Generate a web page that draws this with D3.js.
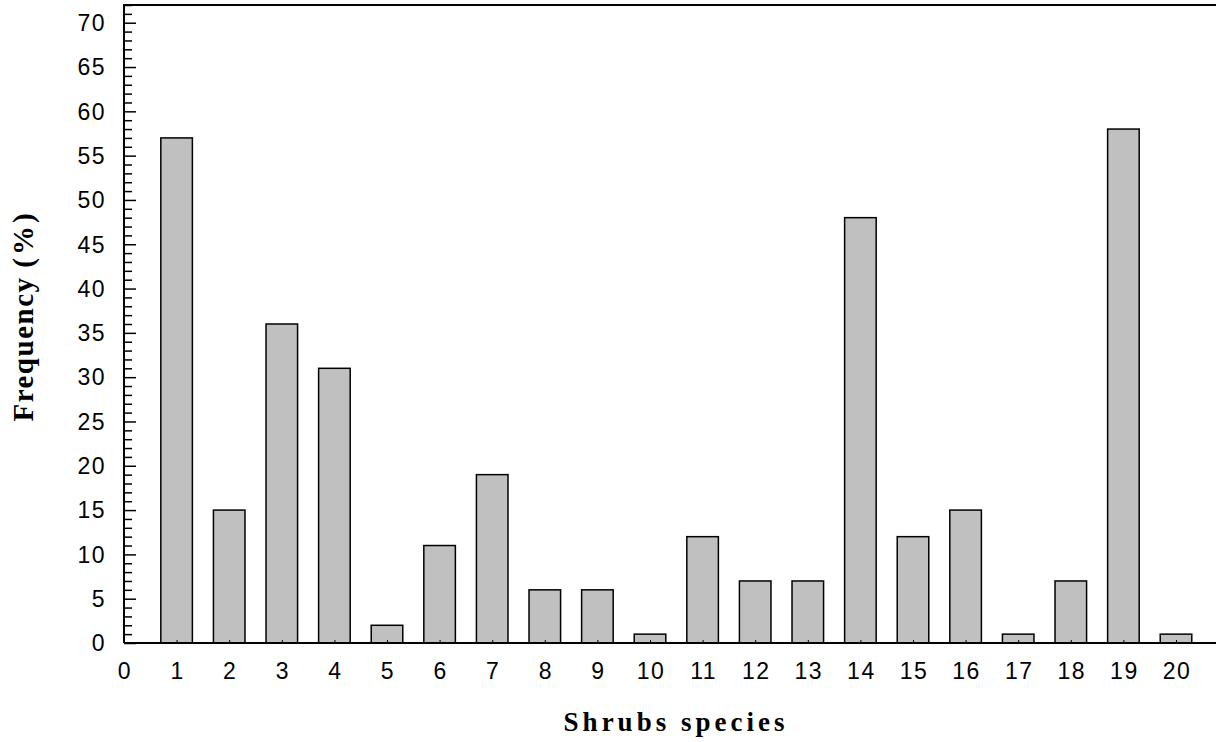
<!DOCTYPE html>
<html>
<head>
<meta charset="utf-8">
<script src="https://cdn.jsdelivr.net/npm/d3@7/dist/d3.min.js"></script>
<style>
  html, body { margin: 0; padding: 0; background: #fff; }
  svg { display: block; }
</style>
</head>
<body>
<svg id="chart" width="1216" height="742"></svg>
<script>
const species = [1, 2, 3, 4, 5, 6, 7, 8, 9, 10, 11, 12, 13, 14, 15, 16, 17, 18, 19, 20];
const frequency = [57, 15, 36, 31, 2, 11, 19, 6, 6, 1, 12, 7, 7, 48, 12, 15, 1, 7, 58, 1];
const xTickValues = [0, 1, 2, 3, 4, 5, 6, 7, 8, 9, 10, 11, 12, 13, 14, 15, 16, 17, 18, 19, 20];
const yTickValues = [0, 5, 10, 15, 20, 25, 30, 35, 40, 45, 50, 55, 60, 65, 70];
const xTitle = "Shrubs species";
const yTitleMain = "Frequency ";
const yTitleUnit = "(%)";

const svg = d3.select("#chart");
const mLeft = 124, mBottom = 643, mTop = 5;
const unit = 52.6;

const x = d3.scaleLinear().domain([0, 21]).range([mLeft, mLeft + 21 * unit]);
const y = d3.scaleLinear().domain([0, 72]).range([mBottom, mTop]);
const barW = unit * 0.6;

// bars
svg.append("g").selectAll("rect")
  .data(species)
  .join("rect")
  .attr("x", (d) => x(d) - barW / 2)
  .attr("y", (d, i) => y(frequency[i]))
  .attr("width", barW)
  .attr("height", (d, i) => y(0) - y(frequency[i]))
  .attr("fill", "#c0c0c0")
  .attr("stroke", "#000")
  .attr("stroke-width", 1.5);

// y axis with inward ticks
const yAxis = svg.append("g").attr("transform", `translate(${mLeft},0)`);
yAxis.call(d3.axisRight(y).tickValues(d3.range(0, 73, 1)).tickSize(8).tickFormat(""));
yAxis.selectAll(".tick line")
  .attr("stroke", "#000").attr("stroke-width", 1.5)
  .attr("x2", (d) => (d % 5 === 0 ? 12 : 8));
yAxis.select(".domain").remove();
yAxis.append("line").attr("x1", 0).attr("x2", 0).attr("y1", mTop).attr("y2", mBottom)
  .attr("stroke", "#000").attr("stroke-width", 2);

// y labels
svg.append("g").selectAll("text")
  .data(yTickValues)
  .join("text")
  .attr("x", 106)
  .attr("y", (d) => y(d))
  .attr("dy", "0.36em")
  .attr("text-anchor", "end")
  .attr("font-family", "Liberation Sans, Arial, sans-serif")
  .attr("font-size", 23)
  .attr("letter-spacing", 1.5)
  .text((d) => d);

// x axis
const xAxis = svg.append("g").attr("transform", `translate(0,${mBottom})`);
xAxis.call(d3.axisTop(x).tickValues(species).tickSize(3).tickFormat(""));
xAxis.selectAll(".tick line").attr("stroke", "#000").attr("stroke-width", 1);
xAxis.select(".domain").remove();
svg.append("line").attr("x1", mLeft).attr("x2", 1216).attr("y1", mBottom).attr("y2", mBottom)
  .attr("stroke", "#000").attr("stroke-width", 2);
// top border
svg.append("line").attr("x1", mLeft - 1).attr("x2", 1216).attr("y1", mTop).attr("y2", mTop)
  .attr("stroke", "#000").attr("stroke-width", 2);

// x labels
svg.append("g").selectAll("text")
  .data(xTickValues)
  .join("text")
  .attr("x", (d) => x(d) + 1)
  .attr("y", 679)
  .attr("text-anchor", "middle")
  .attr("font-family", "Liberation Sans, Arial, sans-serif")
  .attr("font-size", 23)
  .attr("letter-spacing", 1.5)
  .text((d) => d);

// titles
svg.append("text")
  .attr("x", 676).attr("y", 731)
  .attr("text-anchor", "middle")
  .attr("font-family", "Liberation Serif, Times New Roman, serif")
  .attr("font-weight", "bold")
  .attr("font-size", 27)
  .attr("letter-spacing", 4)
  .text(xTitle);

const yt = svg.append("text")
  .attr("transform", "translate(33,316) rotate(-90)")
  .attr("text-anchor", "middle")
  .attr("font-family", "Liberation Serif, Times New Roman, serif")
  .attr("font-weight", "bold")
  .attr("font-size", 29)
  .attr("letter-spacing", 1.5);
yt.append("tspan").text(yTitleMain);
yt.append("tspan").attr("letter-spacing", 3).text(yTitleUnit);
</script>
</body>
</html>
